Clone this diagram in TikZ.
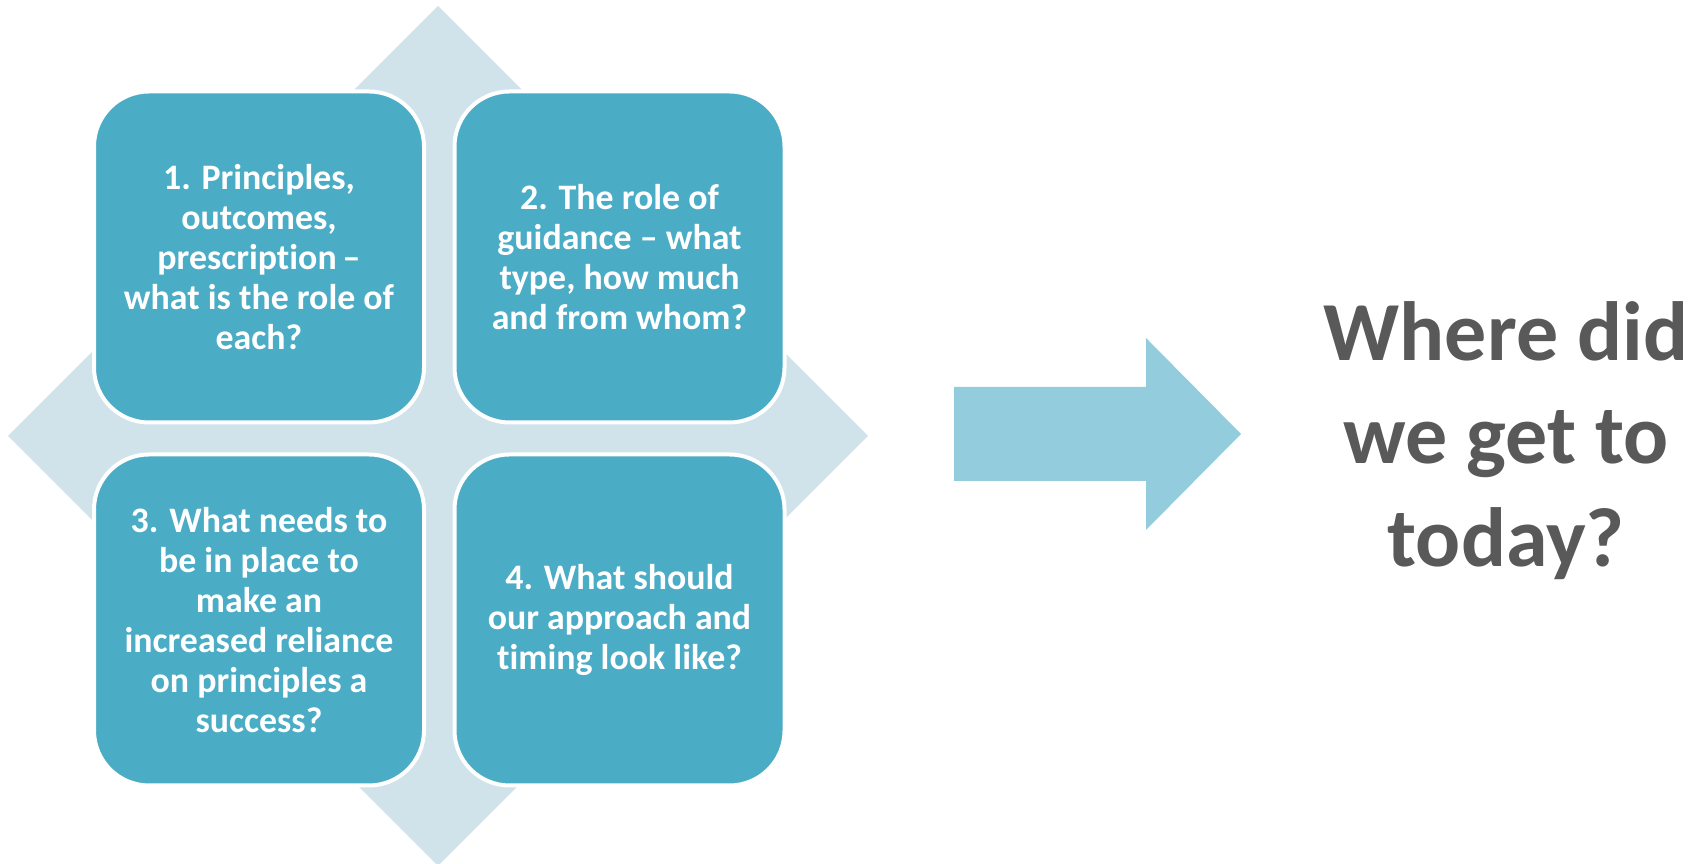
\documentclass[tikz,border=0pt]{standalone}
\usepackage{fontspec}
\setmainfont{Carlito}[Ligatures=NoCommon]
\definecolor{tileblue}{HTML}{4BACC6}
\definecolor{backdrop}{HTML}{D0E3EA}
\definecolor{pointer}{HTML}{93CDDD}
\definecolor{ink}{HTML}{595959}
\tikzset{
  tile/.style={draw=white, line width=0.04cm, fill=tileblue, rounded corners=0.55cm,
    minimum width=3.30cm, minimum height=3.31cm, inner sep=0pt,
    text=white, align=center, font=\bfseries\fontsize{10.2}{11.4}\selectfont},
  question/.style={text=ink, align=center, inner sep=0pt,
    font=\bfseries\fontsize{23.9}{29.3}\selectfont},
}
\begin{document}
\begin{tikzpicture}
  \useasboundingbox (0,0) rectangle (17,8.64);
  % pale diamond behind the tiles
  \fill[backdrop] (4.38,8.58) -- (8.68,4.28) -- (4.38,-0.02) -- (0.08,4.28) -- cycle;
  % the four tiles
  \node[tile] (q1) at (2.59,6.07) {1. Principles,\\outcomes,\\prescription\,--\\what is the role of\\each?};
  \node[tile] (q2) at (6.195,6.07) {2. The role of\\guidance -- what\\type, how much\\and from whom?};
  \node[tile] (q3) at (2.59,2.44) {3. What needs to\\be in place to\\make an\\increased reliance\\on principles a\\success?};
  \node[tile] (q4) at (6.195,2.44) {4. What should\\our approach and\\timing look like?};
  % block arrow
  \fill[pointer] (9.54,4.77) -- (11.46,4.77) -- (11.46,5.26) -- (12.41,4.30)
    -- (11.46,3.34) -- (11.46,3.83) -- (9.54,3.83) -- cycle;
  % closing question
  \node[question] (goal) at (15.06,4.23) {Where did\\we get to\\today?};
\end{tikzpicture}
\end{document}
